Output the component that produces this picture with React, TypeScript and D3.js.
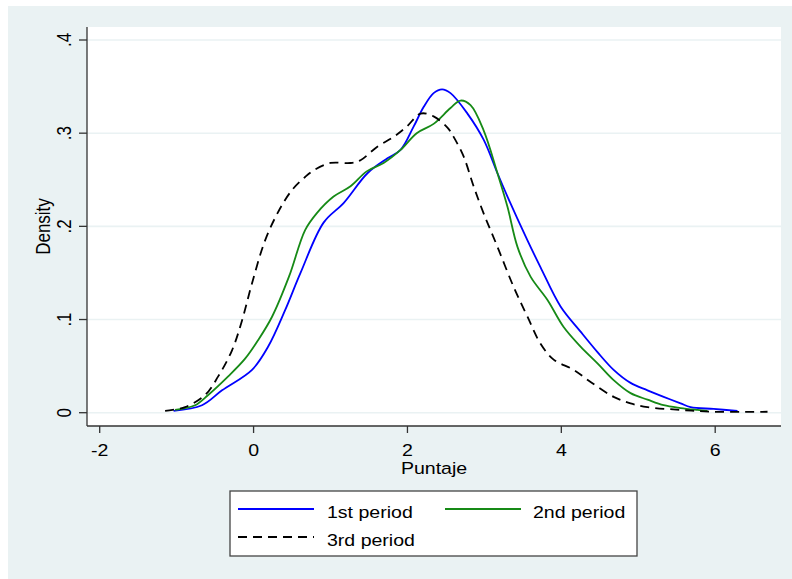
import React from "react";
import * as d3 from "d3";

// kernel density estimates (Puntaje vs density)
const p1X = [-1.04, -0.67, -0.41, -0.02, 0.19, 0.41, 0.61, 0.91, 1.17, 1.48, 1.74, 1.91, 2.08, 2.21, 2.34, 2.45, 2.56, 2.78, 2.99, 3.17, 3.3, 3.56, 3.73, 3.99, 4.25, 4.47, 4.68, 4.9, 5.12, 5.33, 5.55, 5.68, 5.98, 6.29];
const p1Y = [0.002, 0.008, 0.024, 0.046, 0.071, 0.11, 0.15, 0.204, 0.225, 0.257, 0.273, 0.282, 0.307, 0.328, 0.343, 0.347, 0.343, 0.321, 0.293, 0.257, 0.232, 0.185, 0.156, 0.114, 0.087, 0.065, 0.046, 0.032, 0.024, 0.017, 0.01, 0.006, 0.004, 0.002];

const p2X = [-1.02, -0.76, -0.59, -0.33, -0.11, 0.06, 0.24, 0.46, 0.67, 0.82, 1.04, 1.26, 1.47, 1.69, 1.91, 2.12, 2.34, 2.56, 2.69, 2.82, 2.99, 3.17, 3.3, 3.43, 3.6, 3.82, 4.03, 4.25, 4.47, 4.68, 4.9, 5.12, 5.33, 5.55, 5.77, 5.9];
const p2Y = [0.003, 0.008, 0.019, 0.039, 0.058, 0.078, 0.103, 0.146, 0.196, 0.214, 0.232, 0.243, 0.259, 0.268, 0.282, 0.3, 0.31, 0.327, 0.335, 0.33, 0.303, 0.257, 0.221, 0.178, 0.146, 0.121, 0.092, 0.071, 0.053, 0.035, 0.021, 0.014, 0.008, 0.005, 0.003, 0.002];

const p3X = [-1.15, -0.89, -0.63, -0.46, -0.28, -0.15, -0.02, 0.15, 0.33, 0.5, 0.67, 0.78, 1.0, 1.26, 1.39, 1.6, 1.82, 1.99, 2.17, 2.34, 2.52, 2.6, 2.73, 2.86, 2.99, 3.17, 3.38, 3.56, 3.73, 3.9, 4.16, 4.38, 4.68, 4.9, 5.12, 5.55, 5.98, 6.68];
const p3Y = [0.002, 0.006, 0.019, 0.039, 0.067, 0.099, 0.139, 0.185, 0.217, 0.239, 0.253, 0.26, 0.268, 0.268, 0.271, 0.285, 0.296, 0.307, 0.321, 0.318, 0.306, 0.296, 0.275, 0.243, 0.214, 0.178, 0.135, 0.103, 0.074, 0.057, 0.046, 0.033, 0.017, 0.01, 0.006, 0.003, 0.001, 0.001];

const xTicks = [-2, 0, 2, 4, 6];
const xTickLabels = ["-2", "0", "2", "4", "6"];
const yTicks = [0, 0.1, 0.2, 0.3, 0.4];
const yTickLabels = ["0", ".1", ".2", ".3", ".4"];
const seriesNames = ["1st period", "2nd period", "3rd period"];

const W = 792;
const H = 579;
const plot = { left: 87, right: 781, top: 27, bottom: 426 };
const font = "'Liberation Sans', Arial, Helvetica, sans-serif";
const fs = 17;
const sx = 1.15; // the original is slightly stretched sideways

const colors = ["#0000ff", "#168a16", "#000000"];
const dashes = [null, null, "9,6"];

export default function App() {
  const x = d3.scaleLinear().domain([-2, 6]).range([99.7, 715.2]);
  const y = d3.scaleLinear().domain([0, 0.4]).range([412.7, 40]);

  const series = [
    p1X.map((v, i) => [v, p1Y[i]]),
    p2X.map((v, i) => [v, p2Y[i]]),
    p3X.map((v, i) => [v, p3Y[i]]),
  ];

  const line = d3
    .line<number[]>()
    .x(d => x(d[0]))
    .y(d => y(d[1]))
    .curve(d3.curveCatmullRom.alpha(0.5));

  // legend layout
  const lg = { x: 230, y: 491, w: 407, h: 65 };
  const legendItems = [
    { lx: 238, ty: 509, tx: 327, by: 517.5 },
    { lx: 445, ty: 509, tx: 533, by: 517.5 },
    { lx: 238, ty: 537, tx: 327, by: 545.5 },
  ];

  return (
    <svg
      width={W}
      height={H}
      style={{ position: "absolute", left: 0, top: 0, display: "block" }}
      fontFamily={font}
    >
      <rect x={0} y={0} width={W} height={H} fill="#ffffff" />
      <rect x={8} y={6} width={W - 8} height={H - 6} fill="#eaf2f3" />
      <rect
        x={plot.left}
        y={plot.top}
        width={plot.right - plot.left}
        height={plot.bottom - plot.top}
        fill="#ffffff"
      />

      {/* grid */}
      {yTicks.map(t => (
        <line
          key={"g" + t}
          x1={plot.left}
          x2={plot.right}
          y1={y(t)}
          y2={y(t)}
          stroke="#eaf2f3"
          strokeWidth={1.6}
        />
      ))}

      {/* curves */}
      {series.map((s, i) => (
        <path
          key={"s" + i}
          d={line(s) || ""}
          fill="none"
          stroke={colors[i]}
          strokeWidth={1.8}
          strokeDasharray={dashes[i] || undefined}
          strokeLinejoin="round"
        />
      ))}

      {/* axes */}
      <line x1={plot.left} x2={plot.left} y1={plot.top} y2={plot.bottom} stroke="#333" strokeWidth={1.3} />
      <line x1={plot.left} x2={plot.right} y1={plot.bottom} y2={plot.bottom} stroke="#333" strokeWidth={1.3} />

      {yTicks.map((t, i) => (
        <g key={"yt" + t}>
          <line x1={plot.left - 8} x2={plot.left} y1={y(t)} y2={y(t)} stroke="#333" strokeWidth={1.3} />
          <text
            transform={`translate(70.5,${y(t)}) scale(${sx},1) rotate(-90)`}
            textAnchor="middle"
            fontSize={fs}
            fill="#000"
          >
            {yTickLabels[i]}
          </text>
        </g>
      ))}

      {xTicks.map((t, i) => (
        <g key={"xt" + t}>
          <line x1={x(t)} x2={x(t)} y1={plot.bottom} y2={plot.bottom + 7} stroke="#333" strokeWidth={1.3} />
          <text
            transform={`translate(${x(t)},455.5) scale(${sx},1)`}
            textAnchor="middle"
            fontSize={fs}
            fill="#000"
          >
            {xTickLabels[i]}
          </text>
        </g>
      ))}

      <text
        transform={`translate(49.5,${(plot.top + plot.bottom) / 2}) scale(${sx},1) rotate(-90)`}
        textAnchor="middle"
        fontSize={fs}
        fill="#000"
      >
        Density
      </text>
      <text
        transform={`translate(${(plot.left + plot.right) / 2},473.5) scale(${sx},1)`}
        textAnchor="middle"
        fontSize={fs}
        fill="#000"
      >
        Puntaje
      </text>

      {/* legend */}
      <rect x={lg.x} y={lg.y} width={lg.w} height={lg.h} fill="#ffffff" stroke="#444" strokeWidth={1.3} />
      {legendItems.map((it, i) => (
        <g key={"lg" + i}>
          <line
            x1={it.lx}
            x2={it.lx + 76}
            y1={it.ty}
            y2={it.ty}
            stroke={colors[i]}
            strokeWidth={1.8}
            strokeDasharray={dashes[i] || undefined}
          />
          <text transform={`translate(${it.tx},${it.by}) scale(${sx},1)`} fontSize={fs} fill="#000">
            {seriesNames[i]}
          </text>
        </g>
      ))}
    </svg>
  );
}
